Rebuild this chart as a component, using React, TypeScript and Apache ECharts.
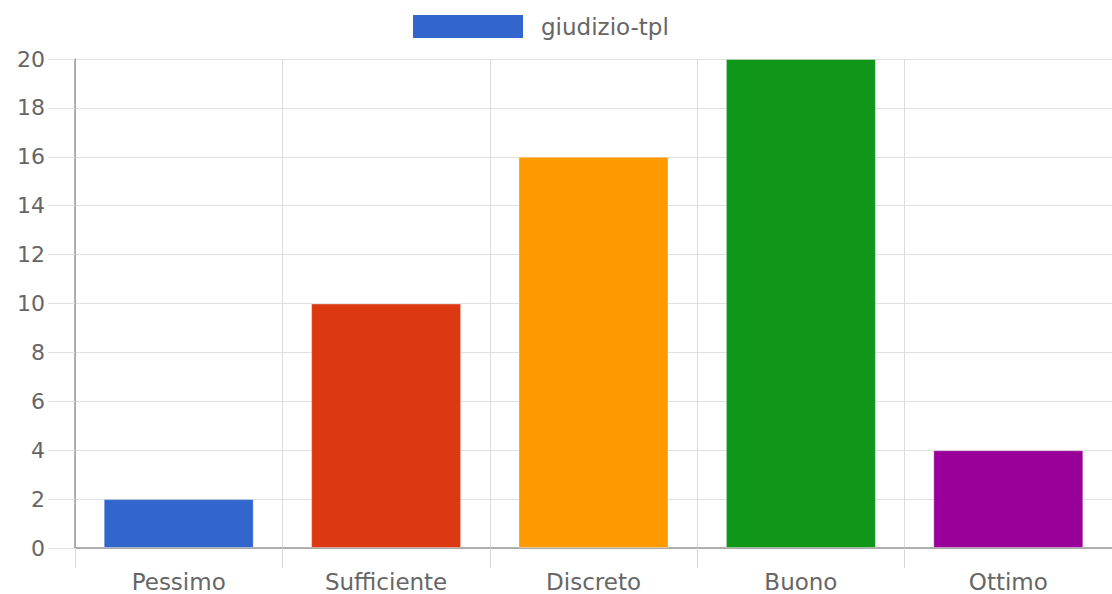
import React, { useEffect, useRef } from "react";
import * as echarts from "echarts";

const categories = ["Pessimo", "Sufficiente", "Discreto", "Buono", "Ottimo"];
const values = [2, 10, 16, 20, 4];
const barColors = ["#3366cc", "#dc3912", "#ff9900", "#109618", "#990099"];
const seriesName = "giudizio-tpl";

export default function App() {
  const ref = useRef<HTMLDivElement>(null);
  useEffect(() => {
    const chart = echarts.init(ref.current!, null, { renderer: "svg" });
    const font = "DejaVu Sans";
    chart.setOption({
      animation: false,
      legend: {
        top: 10,
        left: 408,
        itemWidth: 110,
        itemHeight: 23,
        icon: "rect",
        data: [seriesName],
        textStyle: { color: "#666", fontSize: 23, fontFamily: font, padding: [0, 0, 0, 13] },
      },
      grid: { left: 75, right: -6, top: 59, bottom: 46 },
      xAxis: {
        type: "category",
        data: categories,
        axisLine: { lineStyle: { color: "#999", width: 1.5 } },
        axisTick: { show: true, length: 20, lineStyle: { color: "#d8d8d8" } },
        splitLine: { show: true, lineStyle: { color: "#dcdcdc" } },
        axisLabel: { color: "#666", fontSize: 23, fontFamily: font, margin: 22 },
      },
      yAxis: {
        type: "value",
        min: 0,
        max: 20,
        interval: 2,
        axisLine: { show: true, lineStyle: { color: "#999", width: 1.5 } },
        axisTick: { show: true, length: 27, lineStyle: { color: "#e0e0e0" } },
        splitLine: { show: true, lineStyle: { color: "#e0e0e0" } },
        axisLabel: { color: "#666", fontSize: 22, fontFamily: font, margin: 30 },
      },
      series: [
        {
          name: seriesName,
          type: "bar",
          barWidth: 150,
          itemStyle: { color: barColors[0] },
          data: values.map((v, i) => ({
            value: v,
            itemStyle: { color: barColors[i], borderColor: "rgba(255,255,255,0.35)", borderWidth: 1 },
          })),
        },
      ],
    });
    return () => chart.dispose();
  }, []);
  return (
    <div
      ref={ref}
      style={{ position: "absolute", left: 0, top: 0, width: 1112, height: 594, overflow: "hidden" }}
    />
  );
}
